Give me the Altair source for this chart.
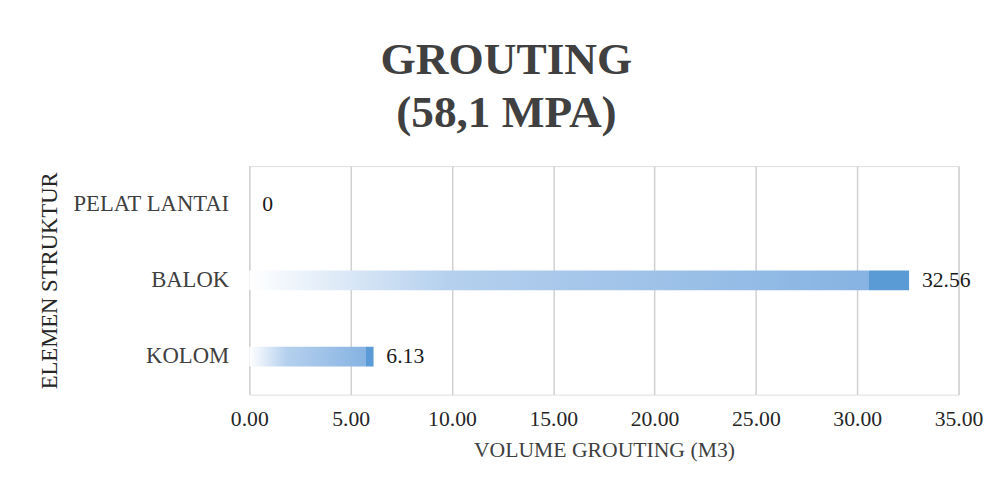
import altair as alt
import pandas as pd

categories = ["PELAT LANTAI", "BALOK", "KOLOM"]
values = [0, 32.56, 6.13]
labels = ["0", "32.56", "6.13"]
x_ticks = [0, 5, 10, 15, 20, 25, 30, 35]

df = pd.DataFrame({"elemen": categories, "volume": values, "label": labels})

FONT = "Liberation Serif, Times New Roman, serif"

grad = alt.Gradient(
    gradient="linear",
    stops=[
        alt.GradientStop(color="#ffffff", offset=0),
        alt.GradientStop(color="#b5d0ee", offset=0.3),
        alt.GradientStop(color="#86b3e2", offset=0.94),
        alt.GradientStop(color="#5b9bd5", offset=0.94),
        alt.GradientStop(color="#5b9bd5", offset=1),
    ],
    x1=0, x2=1, y1=0, y2=0,
)

y_enc = alt.Y(
    "elemen:N",
    sort=categories,
    title="ELEMEN STRUKTUR",
    axis=alt.Axis(
        labelFont=FONT, labelFontSize=23, labelColor="#404040",
        titleFont=FONT, titleFontSize=23, titleColor="#262626",
        titleFontWeight="normal", labelPadding=21, titlePadding=11,
        ticks=False, domain=False, grid=False,
    ),
)

x_enc = alt.X(
    "volume:Q",
    scale=alt.Scale(domain=[0, 35], nice=False),
    title="VOLUME GROUTING (M3)",
    axis=alt.Axis(
        values=x_ticks, format=".2f",
        labelFont=FONT, labelFontSize=22, labelColor="#262626",
        titleFont=FONT, titleFontSize=22, titleColor="#404040",
        titleFontWeight="normal", labelPadding=14, titlePadding=11,
        ticks=False, domain=False, grid=True, gridColor="#d0d0d0",
        gridWidth=1.5, labelFlush=False,
    ),
)

bars = alt.Chart(df).mark_bar(size=20, fill=grad, cornerRadius=0).encode(
    x=x_enc, y=y_enc
)

text = alt.Chart(df).mark_text(
    align="left", baseline="middle", dx=13, font=FONT, fontSize=22, color="#1a1a1a"
).encode(
    x=alt.X("volume:Q"), y=alt.Y("elemen:N", sort=categories), text="label:N"
)

chart = (
    alt.layer(bars, text)
    .properties(
        width=720,
        height=232,
        title=alt.TitleParams(
            text=["GROUTING", "(58,1 MPA)"],
            font=FONT, fontSize=46, fontWeight="bold", color="#404040",
            lineHeight=53, anchor="middle", offset=30, dx=-99,
        ),
        padding={"left": 31, "top": 27, "right": 10, "bottom": 5},
    )
    .configure_view(stroke=None)
    .configure(background="white")
)

chart.save("out.html", embed_options={"renderer": "svg", "actions": False})
